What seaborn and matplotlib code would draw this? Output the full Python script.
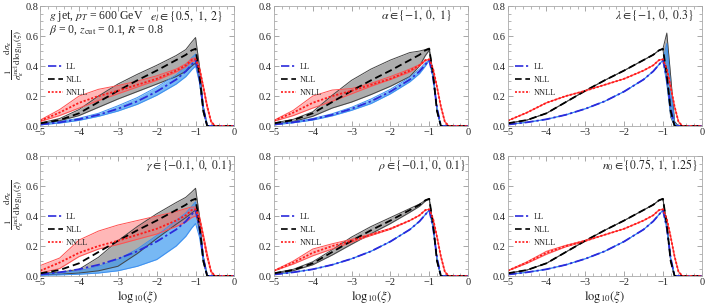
import matplotlib
matplotlib.use("Agg")
import matplotlib.pyplot as plt
from matplotlib.lines import Line2D
from matplotlib.ticker import MultipleLocator, FormatStrFormatter
import seaborn as sns

# log10(xi) grid shared by all curves
X = [-5, -4.5, -4, -3.5, -3, -2.5, -2, -1.5, -1.25, -1.1, -1.0, -0.9, -0.8, -0.7, -0.6, -0.5, -0.4, 0]

# central curves
LL   = [0.010, 0.025, 0.045, 0.075, 0.115, 0.165, 0.230, 0.310, 0.365, 0.410, 0.440, 0.320, 0.120, 0.0, 0, 0, 0, 0]
NLL  = [0.018, 0.040, 0.085, 0.160, 0.235, 0.305, 0.370, 0.440, 0.475, 0.505, 0.515, 0.340, 0.100, 0.0, 0, 0, 0, 0]
NNLL = [0.035, 0.090, 0.155, 0.200, 0.235, 0.275, 0.315, 0.370, 0.405, 0.440, 0.445, 0.380, 0.260, 0.130, 0.030, 0, 0, 0]

# e_l variation
NLL_UP_EL  = [0.020, 0.050, 0.110, 0.200, 0.280, 0.345, 0.405, 0.470, 0.510, 0.560, 0.590, 0.400, 0.130, 0.0, 0, 0, 0, 0]
NLL_LO_EL  = [0.015, 0.035, 0.070, 0.125, 0.180, 0.230, 0.280, 0.330, 0.365, 0.400, 0.420, 0.300, 0.090, 0.0, 0, 0, 0, 0]
LL_UP_EL   = [0.012, 0.030, 0.052, 0.085, 0.135, 0.190, 0.260, 0.340, 0.400, 0.455, 0.480, 0.340, 0.130, 0.0, 0, 0, 0, 0]
LL_LO_EL   = [0.008, 0.020, 0.038, 0.065, 0.100, 0.145, 0.205, 0.280, 0.330, 0.375, 0.400, 0.290, 0.110, 0.0, 0, 0, 0, 0]
NNLL_UP_EL = [0.040, 0.110, 0.200, 0.245, 0.270, 0.300, 0.335, 0.380, 0.415, 0.450, 0.455, 0.395, 0.270, 0.140, 0.035, 0, 0, 0]
NNLL_LO_EL = [0.030, 0.070, 0.120, 0.170, 0.215, 0.260, 0.305, 0.360, 0.395, 0.430, 0.435, 0.370, 0.250, 0.120, 0.025, 0, 0, 0]

# alpha variation
NLL_UP_AL  = [0.020, 0.045, 0.095, 0.205, 0.305, 0.380, 0.440, 0.490, 0.500, 0.510, 0.520, 0.350, 0.100, 0.0, 0, 0, 0, 0]
NLL_LO_AL  = [0.015, 0.030, 0.065, 0.120, 0.160, 0.210, 0.265, 0.330, 0.400, 0.470, 0.505, 0.340, 0.100, 0.0, 0, 0, 0, 0]
LL_UP_AL   = [0.012, 0.028, 0.050, 0.082, 0.125, 0.180, 0.245, 0.325, 0.380, 0.420, 0.440, 0.320, 0.120, 0.0, 0, 0, 0, 0]
LL_LO_AL   = [0.008, 0.022, 0.040, 0.068, 0.105, 0.150, 0.215, 0.295, 0.350, 0.400, 0.440, 0.320, 0.120, 0.0, 0, 0, 0, 0]
NNLL_UP_AL = [0.038, 0.105, 0.200, 0.240, 0.250, 0.285, 0.330, 0.380, 0.410, 0.440, 0.445, 0.380, 0.260, 0.130, 0.030, 0, 0, 0]
NNLL_LO_AL = [0.032, 0.070, 0.120, 0.165, 0.215, 0.265, 0.310, 0.360, 0.400, 0.435, 0.445, 0.380, 0.260, 0.130, 0.030, 0, 0, 0]

# lambda variation (only near the peak)
NLL_UP_LA  = [0.018, 0.040, 0.085, 0.160, 0.235, 0.305, 0.370, 0.440, 0.475, 0.505, 0.515, 0.620, 0.330, 0.030, 0, 0, 0, 0]
NLL_LO_LA  = [0.018, 0.040, 0.085, 0.160, 0.235, 0.305, 0.370, 0.440, 0.475, 0.505, 0.515, 0.300, 0.060, 0.0, 0, 0, 0, 0]
LL_UP_LA   = [0.010, 0.025, 0.045, 0.075, 0.115, 0.165, 0.230, 0.310, 0.365, 0.410, 0.440, 0.550, 0.260, 0.020, 0, 0, 0, 0]
LL_LO_LA   = [0.010, 0.025, 0.045, 0.075, 0.115, 0.165, 0.230, 0.310, 0.365, 0.410, 0.440, 0.280, 0.070, 0.0, 0, 0, 0, 0]
NNLL_UP_LA = NNLL
NNLL_LO_LA = NNLL

# gamma variation
NLL_UP_GA  = [0.020, 0.025, 0.045, 0.125, 0.235, 0.330, 0.415, 0.490, 0.525, 0.560, 0.585, 0.400, 0.130, 0.0, 0, 0, 0, 0]
NLL_LO_GA  = [0.010, 0.012, 0.020, 0.035, 0.065, 0.150, 0.250, 0.345, 0.390, 0.420, 0.440, 0.300, 0.090, 0.0, 0, 0, 0, 0]
LL_UP_GA   = [0.012, 0.020, 0.035, 0.065, 0.110, 0.180, 0.270, 0.370, 0.420, 0.465, 0.495, 0.350, 0.130, 0.0, 0, 0, 0, 0]
LL_LO_GA   = [0.005, 0.008, 0.012, 0.020, 0.035, 0.065, 0.110, 0.200, 0.265, 0.320, 0.350, 0.260, 0.100, 0.0, 0, 0, 0, 0]
NNLL_UP_GA = [0.070, 0.120, 0.240, 0.300, 0.340, 0.370, 0.400, 0.430, 0.450, 0.460, 0.460, 0.400, 0.280, 0.150, 0.035, 0, 0, 0]
NNLL_LO_GA = [0.020, 0.050, 0.130, 0.180, 0.210, 0.245, 0.280, 0.330, 0.360, 0.390, 0.400, 0.360, 0.250, 0.120, 0.025, 0, 0, 0]

# rho variation
NLL_UP_RH  = [0.020, 0.045, 0.095, 0.175, 0.260, 0.330, 0.390, 0.450, 0.480, 0.505, 0.515, 0.340, 0.100, 0.0, 0, 0, 0, 0]
NLL_LO_RH  = [0.016, 0.036, 0.075, 0.140, 0.212, 0.282, 0.350, 0.425, 0.465, 0.500, 0.515, 0.340, 0.100, 0.0, 0, 0, 0, 0]
LL_UP_RH   = LL
LL_LO_RH   = LL
NNLL_UP_RH = [0.036, 0.100, 0.180, 0.215, 0.245, 0.280, 0.318, 0.370, 0.405, 0.440, 0.445, 0.380, 0.260, 0.130, 0.030, 0, 0, 0]
NNLL_LO_RH = [0.034, 0.080, 0.135, 0.180, 0.225, 0.270, 0.312, 0.370, 0.405, 0.440, 0.445, 0.380, 0.260, 0.130, 0.030, 0, 0, 0]

# n0 variation
NLL_UP_N0  = NLL
NLL_LO_N0  = NLL
LL_UP_N0   = LL
LL_LO_N0   = LL
NNLL_UP_N0 = [0.036, 0.095, 0.165, 0.205, 0.238, 0.275, 0.315, 0.370, 0.405, 0.440, 0.445, 0.380, 0.260, 0.130, 0.030, 0, 0, 0]
NNLL_LO_N0 = [0.034, 0.085, 0.145, 0.195, 0.232, 0.275, 0.315, 0.370, 0.405, 0.440, 0.445, 0.380, 0.260, 0.130, 0.030, 0, 0, 0]

LABELS = [r'$e_l \in \{0.5,\ 1,\ 2\}$', r'$\alpha \in \{-1,\ 0,\ 1\}$', r'$\lambda \in \{-1,\ 0,\ 0.3\}$',
          r'$\gamma \in \{-0.1,\ 0,\ 0.1\}$', r'$\rho \in \{-0.1,\ 0,\ 0.1\}$', r'$n_0 \in \{0.75,\ 1,\ 1.25\}$']
LABEL_X = [0.943, 0.915, 0.955, 0.99, 0.99, 0.98]

BANDS = [
    (NLL_LO_EL, NLL_UP_EL, LL_LO_EL, LL_UP_EL, NNLL_LO_EL, NNLL_UP_EL),
    (NLL_LO_AL, NLL_UP_AL, LL_LO_AL, LL_UP_AL, NNLL_LO_AL, NNLL_UP_AL),
    (NLL_LO_LA, NLL_UP_LA, LL_LO_LA, LL_UP_LA, NNLL_LO_LA, NNLL_UP_LA),
    (NLL_LO_GA, NLL_UP_GA, LL_LO_GA, LL_UP_GA, NNLL_LO_GA, NNLL_UP_GA),
    (NLL_LO_RH, NLL_UP_RH, LL_LO_RH, LL_UP_RH, NNLL_LO_RH, NNLL_UP_RH),
    (NLL_LO_N0, NLL_UP_N0, LL_LO_N0, LL_UP_N0, NNLL_LO_N0, NNLL_UP_N0),
]

sns.set_style('ticks')
plt.rcParams['font.family'] = ['Liberation Serif', 'DejaVu Serif']
plt.rcParams['mathtext.fontset'] = 'stix'

LL_C, NLL_C, NNLL_C = '#2b2bdc', 'black', '#ff1a1a'
LL_LS = (0, (5, 1.6, 1.3, 1.6))
NLL_LS = (0, (4, 2.2))
NNLL_LS = (0, (1.2, 1.0))

fig = plt.figure(figsize=(7.06, 3.03), dpi=100)
lefts = [0.057, 0.388, 0.719]
bottoms = [0.584, 0.089]

YLAB = r'$\dfrac{1}{\sigma_\kappa^{\rm incl}}\dfrac{{\rm d}\sigma_\kappa}{{\rm d}\mathrm{log}_{10}(\xi)}$'

for i in range(6):
    r, c = divmod(i, 3)
    ax = fig.add_axes([lefts[c], bottoms[r], 0.275, 0.396])
    nlo, nup, llo, lup, rlo, rup = BANDS[i]

    # bands: NLL grey, LL blue, NNLL red
    ax.fill_between(X, nlo, nup, color='#777777', alpha=0.6, lw=0)
    ax.fill_between(X, llo, lup, color='#3d9bf0', alpha=0.7, lw=0)
    ax.fill_between(X, rlo, rup, color='#ff6060', alpha=0.45, lw=0)
    for lo, up, ec in [(nlo, nup, '#444444'), (llo, lup, '#3d8ff0'), (rlo, rup, '#ff5050')]:
        ax.plot(X, lo, color=ec, lw=0.7)
        ax.plot(X, up, color=ec, lw=0.7)

    sns.lineplot(x=X, y=LL, ax=ax, color=LL_C, linestyle=LL_LS, lw=1.3)
    sns.lineplot(x=X, y=NLL, ax=ax, color=NLL_C, linestyle=NLL_LS, lw=1.3)
    sns.lineplot(x=X, y=NNLL, ax=ax, color=NNLL_C, linestyle=NNLL_LS, lw=1.3)

    ax.set_xlim(-5, 0)
    ax.set_ylim(0, 0.8)
    ax.xaxis.set_major_locator(MultipleLocator(1))
    ax.xaxis.set_minor_locator(MultipleLocator(0.2))
    ax.yaxis.set_major_locator(MultipleLocator(0.2))
    ax.yaxis.set_minor_locator(MultipleLocator(0.05))
    ax.yaxis.set_major_formatter(FormatStrFormatter('%.1f'))
    ax.tick_params(which='both', direction='in', top=True, right=True, color='#999999',
                   labelsize=7.5, pad=1.5)
    ax.tick_params(which='major', length=3.5, width=0.6)
    ax.tick_params(which='minor', length=2, width=0.5)
    for s in ax.spines.values():
        s.set_color('#aaaaaa')
        s.set_linewidth(0.6)

    handles = [Line2D([], [], color=LL_C, ls=LL_LS, lw=1.2),
               Line2D([], [], color=NLL_C, ls=NLL_LS, lw=1.2),
               Line2D([], [], color=NNLL_C, ls=NNLL_LS, lw=1.2)]
    ax.legend(handles, ['LL', 'NLL', 'NNLL'], loc='upper left', bbox_to_anchor=(0.0, 0.59),
              frameon=False, fontsize=6, handlelength=1.8, handletextpad=0.4, labelspacing=0.6)

    ax.text(LABEL_X[i], 0.92 if r == 0 else 0.925, LABELS[i], transform=ax.transAxes,
            ha='right', va='center', fontsize=8.5)

    if c == 0:
        ax.set_ylabel(YLAB, fontsize=6.4)
        ax.yaxis.set_label_coords(-0.072, 0.59)
    if r == 1:
        ax.set_xlabel(r'$\mathrm{log}_{10}(\xi)$', fontsize=9, labelpad=1)
    if i == 0:
        ax.text(0.047, 0.917, r'$g$ jet, $p_T$ = 600 GeV', transform=ax.transAxes,
                ha='left', va='center', fontsize=8.5)
        ax.text(0.047, 0.80, r'$\beta$ = 0, $z_{\rm cut}$ = 0.1, $R$ = 0.8', transform=ax.transAxes,
                ha='left', va='center', fontsize=8.5)

fig.savefig('out.png', dpi=100)
